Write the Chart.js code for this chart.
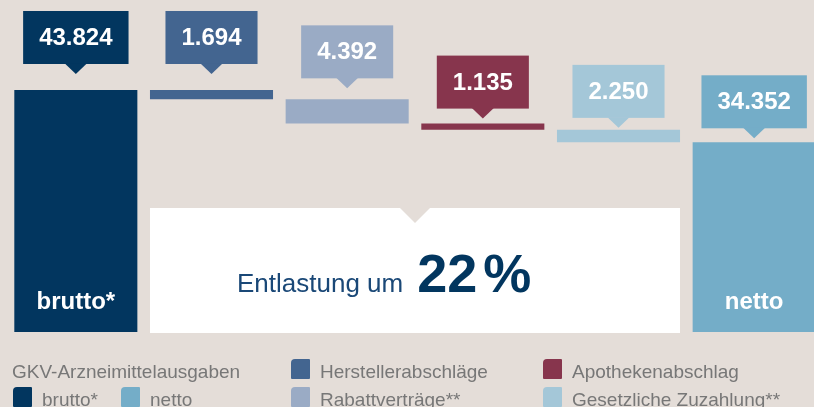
<!DOCTYPE html>
<html>
<head>
<meta charset="utf-8">
<script src="https://cdn.jsdelivr.net/npm/chart.js@4"></script>
<style>
  html, body { margin:0; padding:0; background:#e4ddd8; width:814px; height:407px; overflow:hidden; }
  #wrap { position:absolute; left:0; top:0; width:822px; height:407px; }
  #legend { position:absolute; left:0; top:0; width:814px; height:407px; pointer-events:none;
            font-family:"Liberation Sans", Arial, Helvetica, sans-serif; font-size:19px; color:#777777; }
  .lg-text { position:absolute; white-space:nowrap; line-height:19px; }
  .lg-sw { position:absolute; width:19px; height:20px; border-radius:4px 1px 1px 1px; }
</style>
</head>
<body>
<div id="wrap"><canvas id="c" width="822" height="407"></canvas></div>
<div id="legend"></div>
<script>
// ---- data ----
const categories = ['brutto*', 'Herstellerabschläge', 'Rabattverträge**', 'Apothekenabschlag', 'Gesetzliche Zuzahlung**', 'netto'];
const amounts = [43.824, 1.694, 4.392, 1.135, 2.250, 34.352];
const valueLabels = ['43.824', '1.694', '4.392', '1.135', '2.250', '34.352'];
const barLabels = ['brutto*', '', '', '', '', 'netto'];
const legendTitle = 'GKV-Arzneimittelausgaben';
const reliefText = 'Entlastung um';
const reliefValue = '22 %';

// ---- styles ----
const colors = ['#02365f', '#436590', '#9aabc5', '#87354d', '#a4c7d8', '#74adc8'];
const calloutGap = [16, 16, 11, 5, 2, 4];
const FONT = '"Liberation Sans", Arial, Helvetica, sans-serif';

// floating ranges built from amounts
const last = amounts.length - 1;
let running = amounts[0];
const ranges = amounts.map((v, i) => {
  if (i === 0 || i === last) return [0, v];
  const r = [running - v, running];
  running -= v;
  return r;
});

const overlay = {
  id: 'overlay',
  afterDatasetsDraw(chart) {
    const ctx = chart.ctx;
    const els = chart.getDatasetMeta(0).data;
    const area = chart.chartArea;
    ctx.save();

    // white relief box
    const b1 = els[1], b4 = els[4];
    const bl = b1.x - b1.width / 2, br = b4.x + b4.width / 2;
    const bt = area.bottom - 124, bb = area.bottom + 1;
    ctx.fillStyle = '#ffffff';
    ctx.fillRect(bl, bt, br - bl, bb - bt);
    const nc = (bl + br) / 2;
    ctx.fillStyle = '#e4ddd8';
    ctx.beginPath();
    ctx.moveTo(nc - 16, bt - 1); ctx.lineTo(nc + 16, bt - 1); ctx.lineTo(nc, bt + 15); ctx.closePath();
    ctx.fill();

    // relief text
    ctx.textBaseline = 'alphabetic';
    ctx.textAlign = 'left';
    ctx.font = '26px ' + FONT;
    ctx.fillStyle = '#1a4877';
    const tx = bl + 87, ty = area.bottom - 40;
    ctx.fillText(reliefText, tx, ty);
    const w1 = ctx.measureText(reliefText).width;
    const parts = reliefValue.split(' ');
    ctx.font = 'bold 54px ' + FONT;
    ctx.fillStyle = '#02365f';
    let px = tx + w1 + 14;
    parts.forEach(p => {
      ctx.fillText(p, px, ty);
      px += ctx.measureText(p).width + 6;
    });

    // callouts
    els.forEach((el, i) => {
      const top = Math.min(el.y, el.base);
      const tip = top - calloutGap[i];
      const boxB = tip - 10, boxT = boxB - 53;
      ctx.font = 'bold 24px ' + FONT;
      const tw = ctx.measureText(valueLabels[i]).width;
      const bw = tw + 32;
      ctx.fillStyle = colors[i];
      ctx.fillRect(el.x - bw / 2, boxT, bw, 53);
      ctx.beginPath();
      ctx.moveTo(el.x - 11, boxB - 0.5); ctx.lineTo(el.x + 11, boxB - 0.5); ctx.lineTo(el.x, tip); ctx.closePath();
      ctx.fill();
      ctx.fillStyle = '#ffffff';
      ctx.textAlign = 'center';
      ctx.fillText(valueLabels[i], el.x, boxT + 34);
      if (barLabels[i]) {
        ctx.fillText(barLabels[i], el.x, area.bottom - 23);
      }
    });
    ctx.restore();
  }
};

new Chart(document.getElementById('c'), {
  type: 'bar',
  data: {
    labels: categories,
    datasets: [{
      data: ranges,
      backgroundColor: colors,
      borderWidth: 0,
      borderSkipped: false,
      barPercentage: 0.907,
      categoryPercentage: 1.0
    }]
  },
  options: {
    responsive: false,
    animation: false,
    events: [],
    layout: { padding: { left: 8, right: 0, top: 0, bottom: 75 } },
    plugins: { legend: { display: false }, tooltip: { enabled: false } },
    scales: {
      x: { display: false },
      y: { display: false, min: 0, max: 60.12 }
    }
  },
  plugins: [overlay]
});

// ---- legend (HTML) ----
const lg = document.getElementById('legend');
function addText(txt, x, baseline) {
  const d = document.createElement('div');
  d.className = 'lg-text';
  d.textContent = txt;
  d.style.left = x + 'px';
  d.style.top = (baseline - 15) + 'px';
  lg.appendChild(d);
}
function addSwatch(color, x, y) {
  const s = document.createElement('div');
  s.className = 'lg-sw';
  s.style.left = x + 'px';
  s.style.top = y + 'px';
  s.style.background = color;
  lg.appendChild(s);
}
addText(legendTitle, 12, 377);
const legendSlots = [
  [0, 13, 387, 405], [5, 121, 387, 405],
  [1, 291, 359, 377], [2, 291, 387, 405],
  [3, 543, 359, 377], [4, 543, 387, 405]
];
legendSlots.forEach(([i, x, y, base]) => {
  addSwatch(colors[i], x, y);
  addText(categories[i], x + 29, base);
});
</script>
</body>
</html>
